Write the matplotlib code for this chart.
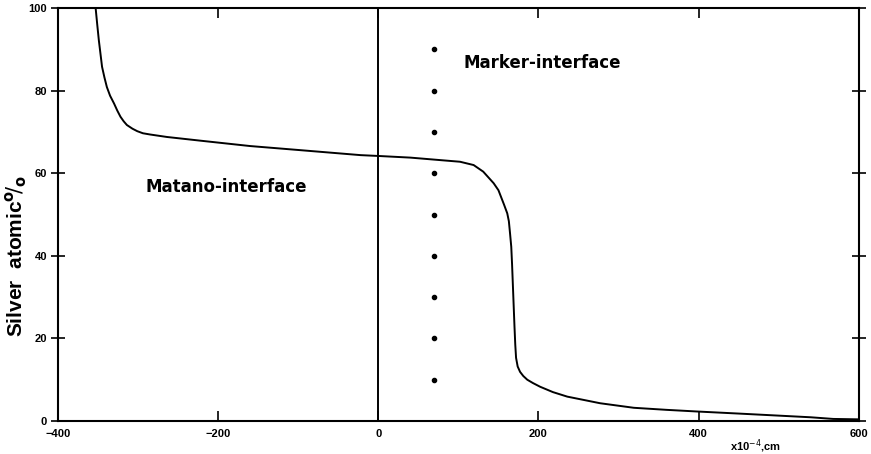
import matplotlib
matplotlib.use("Agg")
import matplotlib.pyplot as plt

# concentration profile
dist = [-353, -351, -349, -347, -345, -342, -339, -335, -330, -326, -322, -318, -314,
        -307, -301, -294, -285, -264, -222, -160, -97, -22, 0, 40, 77, 102, 119, 131,
        144, 150, 154, 157, 161, 163, 164.5, 166, 167, 168, 169, 170, 171, 172, 174,
        177, 181, 186, 193, 202, 218, 236, 277, 319, 360, 398, 450, 500, 540, 568, 600]
silver = [100, 96, 92.2, 89, 85.8, 83.2, 80.9, 78.8, 76.9, 75.2, 73.7, 72.6, 71.7,
          70.8, 70.2, 69.7, 69.4, 68.8, 67.9, 66.6, 65.6, 64.4, 64.2, 63.8, 63.2, 62.8,
          62.0, 60.4, 57.6, 55.9, 53.9, 52.4, 50.3, 48.4, 45.4, 42.2, 38, 33, 28, 23,
          18.5, 15.3, 13.2, 11.9, 10.9, 10.0, 9.2, 8.3, 7.0, 5.9, 4.3, 3.2, 2.7, 2.3,
          1.8, 1.3, 0.9, 0.5, 0.4]

marker_x = [69] * 9
marker_y = [90, 80, 70, 60, 50, 40, 30, 20, 10]

xticks = [-400, -200, 0, 200, 400, 600]
xticklabels = ["\u2212400", "\u2212200", "0", "200", "400", "600"]
yticks = [0, 20, 40, 60, 80, 100]

plt.rcParams['font.family'] = ['Liberation Sans', 'DejaVu Sans']

fig = plt.figure(figsize=(8.71, 4.54), dpi=100)
ax = fig.add_axes([0.0666, 0.0727, 0.9194, 0.9093])

ax.plot(dist, silver, color="black", lw=1.4)
ax.axvline(0, color="black", lw=1.4)
ax.plot(marker_x, marker_y, "o", color="black", ms=3)

ax.set_xlim(-400, 600)
ax.set_ylim(0, 100)
ax.set_xticks(xticks)
ax.set_yticks(yticks)
ax.set_xticklabels(xticklabels, fontweight="bold", fontsize=8)
ax.set_yticklabels([str(v) for v in yticks], fontweight="bold", fontsize=8)
ax.tick_params(axis="x", direction="in", length=7, width=1.2, top=True, pad=6)
ax.tick_params(axis="y", direction="inout", length=10, width=1.2, right=True, pad=3)
for s in ax.spines.values():
    s.set_linewidth(1.5)

ax.set_ylabel(r"Silver  atomic$^{\mathbf{o}}\!/_{\mathbf{o}}$", fontsize=15,
              fontweight="bold")
ax.yaxis.set_label_coords(-0.036, 0.40)

ax.text(-291, 56.7, "Matano-interface", fontsize=12, fontweight="bold",
        family="DejaVu Sans", va="center")
ax.text(106, 86.7, "Marker-interface", fontsize=12, fontweight="bold",
        family="DejaVu Sans", va="center")
ax.text(0.839, -0.06, r"x10$^{-4}$,cm", transform=ax.transAxes, fontsize=8,
        fontweight="bold", ha="left", va="center")

fig.savefig("out.png", dpi=100)
